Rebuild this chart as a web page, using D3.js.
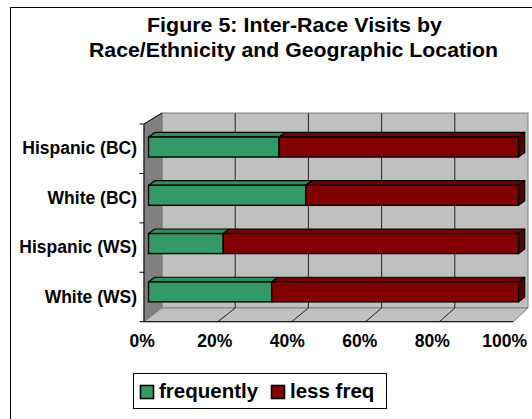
<!DOCTYPE html>
<html>
<head>
<meta charset="utf-8">
<script src="https://cdn.jsdelivr.net/npm/d3@7"></script>
<style>
  html, body { margin: 0; padding: 0; background: #fff; }
  svg { display: block; }
  text { font-family: "Liberation Sans", Arial, sans-serif; font-weight: bold; fill: #000; }
</style>
</head>
<body>
<svg id="chart" width="532" height="419"></svg>
<script>
// Category rows, listed top to bottom as drawn
const categories = ["Hispanic (BC)", "White (BC)", "Hispanic (WS)", "White (WS)"];
// Series values (percent of visits)
const frequently = [35.3, 42.5, 20.2, 33.3];
const lessFreq = [64.7, 57.5, 79.8, 66.7];
const seriesNames = ["frequently", "less freq"];
const seriesColors = ["#339966", "#800000"];
// Value axis ticks
const xTicks = [0, 0.2, 0.4, 0.6, 0.8, 1];
const titleLines = ["Figure 5: Inter-Race Visits by", "Race/Ethnicity and Geographic Location"];

const svg = d3.select("#chart");

// --- 3-D box geometry ---
const frontTop = 124, frontBottom = 321.7;   // front plane (axes)
const backTop = 113, backBottom = 308;       // back wall
const xFront = d3.scaleLinear().domain([0, 1]).range([144, 513.3]);
const xBack = d3.scaleLinear().domain([0, 1]).range([162, 528]);
const yFront = d3.scaleBand().domain(categories).range([frontTop, frontBottom]);

// Bars sit part way into the depth of the box
const xBar = d3.scaleLinear().domain([0, 1]).range([148.5, 518.5]);
const yBar = d3.scaleBand().domain(categories).range([122.9, 316]);
const barH = 20, barDX = 6.2, barDY = -4.6;

// Outer chart frame (runs off the right and bottom edges)
svg.append("rect")
  .attr("x", 10.5).attr("y", 7.5).attr("width", 560).attr("height", 440)
  .attr("fill", "#fff").attr("stroke", "#000").attr("stroke-width", 1);

// Title
titleLines.forEach((t, i) => {
  svg.append("text")
    .attr("x", i === 0 ? 147 : 89)
    .attr("y", i === 0 ? 32 : 57)
    .attr("font-size", 19.5)
    .attr("textLength", i === 0 ? 295 : 409)
    .attr("lengthAdjust", "spacingAndGlyphs")
    .text(t);
});

const wall = svg.append("g");
// back wall
wall.append("rect")
  .attr("x", xBack(0)).attr("y", backTop)
  .attr("width", xBack(1) - xBack(0)).attr("height", backBottom - backTop)
  .attr("fill", "#c0c0c0").attr("stroke", "#808080").attr("stroke-width", 1);
// side wall
wall.append("polygon")
  .attr("points", [[xFront(0), frontTop], [xBack(0), backTop], [xBack(0), backBottom], [xFront(0), frontBottom]].join(" "))
  .attr("fill", "#808080").attr("stroke", "#808080").attr("stroke-width", 1);
// floor
wall.append("polygon")
  .attr("points", [[xFront(0), frontBottom], [xBack(0), backBottom], [xBack(1), backBottom], [xFront(1), frontBottom]].join(" "))
  .attr("fill", "#c0c0c0").attr("stroke", "#808080").attr("stroke-width", 1);
// top edge of side wall
wall.append("line")
  .attr("x1", xFront(0)).attr("y1", frontTop).attr("x2", xBack(0)).attr("y2", backTop)
  .attr("stroke", "#000").attr("stroke-width", 1);

// gridlines on back wall and floor
const inner = xTicks.filter(t => t > 0 && t < 1);
wall.selectAll(".gv").data(inner).enter().append("line")
  .attr("x1", d => xBack(d)).attr("x2", d => xBack(d))
  .attr("y1", backTop).attr("y2", backBottom)
  .attr("stroke", "#222").attr("stroke-width", 1);
wall.selectAll(".gf").data(inner).enter().append("line")
  .attr("x1", d => xFront(d)).attr("y1", frontBottom)
  .attr("x2", d => xBack(d)).attr("y2", backBottom)
  .attr("stroke", "#222").attr("stroke-width", 1);

// axis lines
wall.append("line")
  .attr("x1", xFront(0)).attr("x2", xFront(0)).attr("y1", frontTop).attr("y2", frontBottom)
  .attr("stroke", "#000").attr("stroke-width", 1);
wall.append("line")
  .attr("x1", xFront(0)).attr("x2", xFront(1)).attr("y1", frontBottom).attr("y2", frontBottom)
  .attr("stroke", "#000").attr("stroke-width", 1);
// category boundary ticks
const bounds = categories.map(c => yFront(c)).concat([frontBottom]);
wall.selectAll(".yt").data(bounds).enter().append("line")
  .attr("x1", xFront(0) - 4.5).attr("x2", xFront(0))
  .attr("y1", d => d).attr("y2", d => d)
  .attr("stroke", "#000").attr("stroke-width", 1);

// --- stacked 3-D bars ---
const rows = categories.map((c, i) => {
  const total = frequently[i] + lessFreq[i];
  const a = frequently[i] / total;
  return { cat: c, segs: [[0, a], [a, 1]] };
});

const bars = svg.append("g");
rows.forEach(r => {
  const y0 = yBar(r.cat) + yBar.bandwidth() / 2 - barH / 2;
  const y1 = y0 + barH;
  r.segs.forEach((s, k) => {
    const xa = xBar(s[0]), xb = xBar(s[1]);
    const col = d3.color(seriesColors[k]);
    // top face
    bars.append("polygon")
      .attr("points", [[xa, y0], [xb, y0], [xb + barDX, y0 + barDY], [xa + barDX, y0 + barDY]].join(" "))
      .attr("fill", col.darker(0.25)).attr("stroke", "#000").attr("stroke-width", 1.2)
      .attr("stroke-linejoin", "round");
    // end face on the last segment
    if (k === r.segs.length - 1) {
      bars.append("polygon")
        .attr("points", [[xb, y0], [xb + barDX, y0 + barDY], [xb + barDX, y1 + barDY], [xb, y1]].join(" "))
        .attr("fill", col.darker(1.1)).attr("stroke", "#000").attr("stroke-width", 1.2)
        .attr("stroke-linejoin", "round");
    }
    // front face
    bars.append("rect")
      .attr("x", xa).attr("y", y0).attr("width", xb - xa).attr("height", barH)
      .attr("fill", seriesColors[k]).attr("stroke", "#000").attr("stroke-width", 1.4);
  });
});

// --- axis labels ---
const yAxis = d3.axisLeft(yFront).tickSize(0).tickPadding(7);
svg.append("g")
  .attr("transform", `translate(${xFront(0)},0)`)
  .call(yAxis)
  .call(g => g.select(".domain").remove())
  .selectAll("text")
  .attr("font-size", 17.5)
  .style("font-family", '"Liberation Sans", Arial, sans-serif')
  .style("font-weight", "bold");

const xLabel = d3.scaleLinear().domain([0, 1]).range([141.7, 504.2]);
const xAxis = d3.axisBottom(xLabel).tickValues(xTicks).tickFormat(d3.format(".0%")).tickSize(0).tickPadding(13);
svg.append("g")
  .attr("transform", `translate(0,${frontBottom})`)
  .call(xAxis)
  .call(g => g.select(".domain").remove())
  .selectAll("text")
  .attr("font-size", 17.5)
  .style("font-family", '"Liberation Sans", Arial, sans-serif')
  .style("font-weight", "bold");

// --- legend ---
const legend = svg.append("g");
legend.append("rect")
  .attr("x", 133.5).attr("y", 373.5).attr("width", 253).attr("height", 35)
  .attr("fill", "#fff").attr("stroke", "#000").attr("stroke-width", 1);
const legendX = [140, 271];
seriesNames.forEach((n, i) => {
  legend.append("rect")
    .attr("x", legendX[i] + 0.5).attr("y", 385.5).attr("width", 13).attr("height", 13)
    .attr("fill", seriesColors[i]).attr("stroke", "#000").attr("stroke-width", 1.6);
  legend.append("text")
    .attr("x", legendX[i] + 19).attr("y", 398)
    .attr("font-size", 20.5)
    .text(n);
});
</script>
</body>
</html>
